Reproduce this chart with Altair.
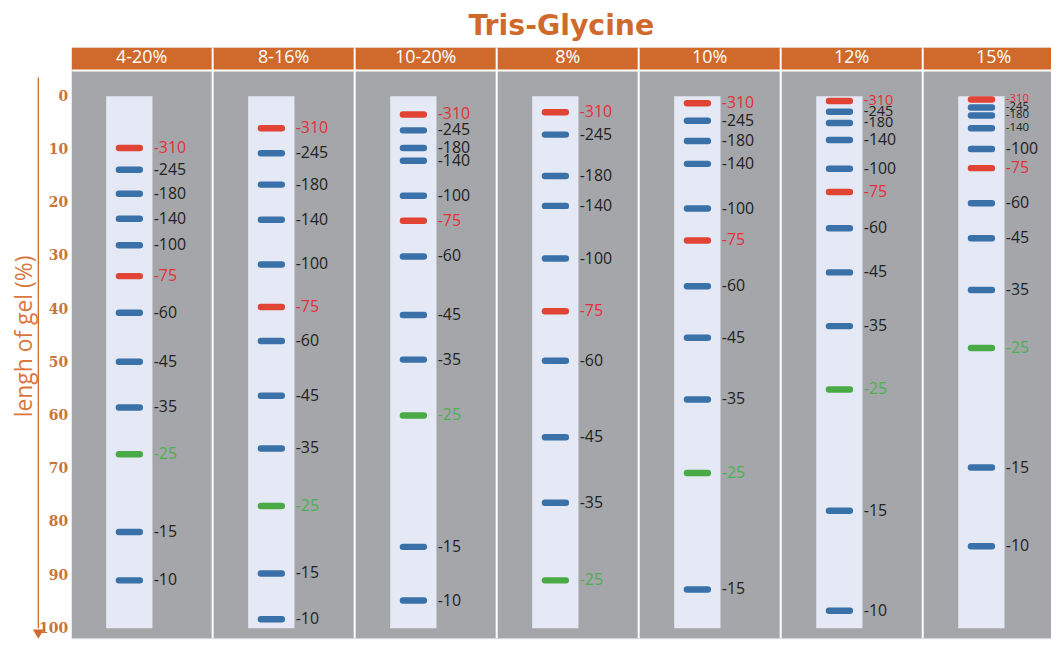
import altair as alt
import pandas as pd

# ---------------- data ----------------
gels = ["4-20%", "8-16%", "10-20%", "8%", "10%", "12%", "15%"]
markers = [310, 245, 180, 140, 100, 75, 60, 45, 35, 25, 15, 10]

# band position (% of gel length) for each marker, top to bottom
pos_4_20 = [9.7, 13.8, 18.3, 23.0, 28.0, 33.8, 40.7, 49.9, 58.5, 67.3, 81.9, 91.0]
pos_8_16 = [6.0, 10.7, 16.6, 23.2, 31.6, 39.6, 46.0, 56.3, 66.2, 77.0, 89.7, 98.3]
pos_10_20 = [3.4, 6.4, 9.7, 12.1, 18.7, 23.4, 30.1, 41.1, 49.5, 60.0, 84.7, 94.8]
pos_8 = [3.0, 7.2, 15.0, 20.6, 30.5, 40.4, 49.7, 64.1, 76.4, 91.0]
pos_10 = [1.3, 4.6, 8.4, 12.7, 21.1, 27.1, 35.7, 45.4, 57.0, 70.8, 92.7]
pos_12 = [0.9, 2.9, 5.0, 8.2, 13.6, 18.0, 24.8, 33.1, 43.2, 55.1, 77.9, 96.7]
pos_15 = [0.6, 2.1, 3.6, 6.0, 9.9, 13.5, 20.1, 26.7, 36.4, 47.3, 69.8, 84.6]

positions = [pos_4_20, pos_8_16, pos_10_20, pos_8, pos_10, pos_12, pos_15]
grid_values = list(range(0, 101, 10))

# ---------------- tables ----------------
rows = []
for i, (g, p) in enumerate(zip(gels, positions)):
    for k, y in zip(markers, p):
        rows.append({"gel": g, "col": i, "kda": k, "pos": y})
bands = pd.DataFrame(rows)
bands["kind"] = bands["kda"].map(
    lambda k: "red" if k in (310, 75) else ("green" if k == 25 else "blue")
)
bands["label"] = "-" + bands["kda"].astype(str)

cols = pd.DataFrame({"gel": gels, "col": list(range(len(gels)))})
grid = pd.DataFrame({"g": grid_values})
arrow = pd.DataFrame({"top": [-3.55], "end": [100.0], "tip": [101.1]})

ORANGE = "#d06a2c"
W, H = 985, 594
PITCH = 142.83

xscale = alt.Scale(domain=[0, W / PITCH], nice=False, zero=False)
yscale = alt.Scale(domain=[-9.16, 101.87], reverse=True, nice=False, zero=False)

yaxis = alt.Axis(
    values=grid_values,
    labelFont="DejaVu Serif",
    labelFontSize=14,
    labelFontWeight="bold",
    labelColor="#c8743a",
    labelPadding=4,
    domain=False,
    ticks=False,
    grid=False,
    title="lengh of gel (%)",
    titleFont="Open Sans",
    titleFontSize=23,
    titleFontWeight="normal",
    titleColor="#d9773f",
    titleAngle=270,
    titleAlign="center",
    titleBaseline="alphabetic",
    titleX=-40,
    titleY=290,
)

# gray panels
panels = (
    alt.Chart(cols)
    .transform_calculate(xa="datum.col", xb="datum.col + 0.986", ya="-4.67", yb="103")
    .mark_rect(color="#a4a6a9", clip=True)
    .encode(
        x=alt.X("xa:Q", scale=xscale, axis=None),
        x2="xb:Q",
        y=alt.Y("ya:Q", scale=yscale),
        y2="yb:Q",
    )
)

# orange header bars
headers = (
    alt.Chart(cols)
    .transform_calculate(xa="datum.col", xb="datum.col + 0.986", ya="-9.16", yb="-5.05")
    .mark_rect(color=ORANGE, clip=True)
    .encode(
        x=alt.X("xa:Q", scale=xscale, axis=None),
        x2="xb:Q",
        y=alt.Y("ya:Q", scale=yscale),
        y2="yb:Q",
    )
)

header_text = (
    alt.Chart(cols)
    .transform_calculate(xc="datum.col + 0.493", yc="-7.2")
    .mark_text(color="white", font="Open Sans", fontSize=18, baseline="middle", clip=True)
    .encode(
        x=alt.X("xc:Q", scale=xscale, axis=None),
        y=alt.Y("yc:Q", scale=yscale),
        text="gel:N",
    )
)

# dotted gridlines (also carries the y axis)
gridlines = (
    alt.Chart(grid)
    .mark_rule(color="white", strokeDash=[2, 2], strokeWidth=1, opacity=0.6)
    .encode(y=alt.Y("g:Q", scale=yscale, axis=yaxis))
)

# lanes
lanes = (
    alt.Chart(cols)
    .transform_calculate(xa="datum.col + 0.243", xb="datum.col + 0.569", ya="0", yb="100")
    .mark_rect(color="#e4e9f5")
    .encode(
        x=alt.X("xa:Q", scale=xscale, axis=None),
        x2="xb:Q",
        y=alt.Y("ya:Q", scale=yscale),
        y2="yb:Q",
    )
)

# bands
band_marks = (
    alt.Chart(bands)
    .transform_calculate(xa="datum.col + 0.333", xb="datum.col + 0.48")
    .mark_rule(strokeWidth=6.5, strokeCap="round", opacity=0.95)
    .encode(
        x=alt.X("xa:Q", scale=xscale, axis=None),
        x2="xb:Q",
        y=alt.Y("pos:Q", scale=yscale),
        color=alt.Color(
            "kind:N",
            scale=alt.Scale(domain=["blue", "red", "green"], range=["#2f6aa3", "#e03a2a", "#41a63c"]),
            legend=None,
        ),
    )
)

# band labels (crowded tops of the 12% and 15% gels use smaller type)
labels = (
    alt.Chart(bands)
    .transform_calculate(
        xl="datum.col + 0.578",
        fs="datum.col == 6 && datum.kda >= 140 ? 11.5 : (datum.col == 5 && datum.kda >= 180 ? 14.5 : 16)",
    )
    .mark_text(align="left", baseline="middle", font="Open Sans")
    .encode(
        x=alt.X("xl:Q", scale=xscale, axis=None),
        y=alt.Y("pos:Q", scale=yscale),
        text="label:N",
        color=alt.Color(
            "kind:N",
            scale=alt.Scale(domain=["blue", "red", "green"], range=["#222222", "#e62e3b", "#4cb050"]),
            legend=None,
        ),
        size=alt.Size("fs:Q", scale=None, legend=None),
    )
)

# orange axis arrow
arrow_line = (
    alt.Chart(arrow)
    .mark_rule(color=ORANGE, strokeWidth=1.3)
    .encode(
        x=alt.value(-33.5),
        y=alt.Y("top:Q", scale=yscale),
        y2="end:Q",
    )
)
arrow_head = (
    alt.Chart(arrow)
    .mark_point(shape="triangle-down", filled=True, color=ORANGE, size=120, opacity=1)
    .encode(
        x=alt.value(-33.5),
        y=alt.Y("tip:Q", scale=yscale),
    )
)

chart = (
    alt.layer(gridlines, panels, headers, header_text, lanes, band_marks, labels, arrow_line, arrow_head)
    .resolve_scale(color="independent", size="independent")
    .properties(
        width=W,
        height=H,
        title=alt.TitleParams(
            "Tris-Glycine",
            font="DejaVu Sans",
            fontSize=28.5,
            fontWeight="bold",
            color=ORANGE,
            anchor="middle",
            offset=7,
        ),
        autosize=alt.AutoSizeParams(type="none"),
        padding={"left": 64, "top": 38, "right": 0, "bottom": 0},
    )
    .configure_view(stroke=None)
    .configure(background="white")
)

chart.save("out.html", embed_options={"renderer": "svg", "actions": False})
